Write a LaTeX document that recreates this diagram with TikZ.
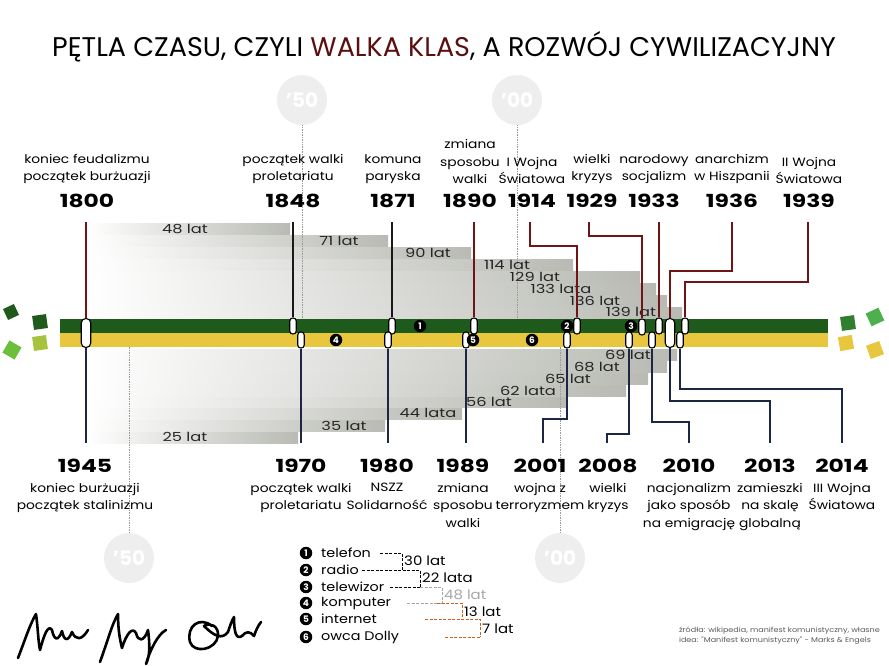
\documentclass[tikz,border=0pt]{standalone}
\usepackage{fontspec}
\setmainfont{Poppins}
\newfontfamily\widefont[FakeStretch=1.15]{Poppins}
\newfontfamily\yearfont[FakeStretch=1.3]{Poppins}
\usetikzlibrary{positioning}
\definecolor{BarGreen}{HTML}{1D5A1B}
\definecolor{BarYellow}{HTML}{E8C63E}
\definecolor{TileLime}{HTML}{6CBF3C}
\definecolor{TileOlive}{HTML}{A7C23D}
\definecolor{TileGreen}{HTML}{2F7F2F}
\definecolor{TileBright}{HTML}{4CB04C}
\definecolor{LineRed}{HTML}{6E1616}
\definecolor{LineNavy}{HTML}{1B2744}
\definecolor{SpanGray}{HTML}{B8BAB3}
\definecolor{DecadeGray}{HTML}{EEEEEE}
\definecolor{LegOrange}{HTML}{C8641E}
\definecolor{TitleRed}{HTML}{5A1010}

\begin{document}
\begin{tikzpicture}[
      x=1pt,y=-1pt,
      event/.style={align=center,inner sep=1pt,font=\widefont\fontsize{12}{17.5}\selectfont},
      year/.style={inner sep=1pt,font=\yearfont\fontsize{18}{18}\selectfont\bfseries},
      spanbar/.style={left color=white,right color=SpanGray},
      spantxt/.style={inner sep=0pt,font=\yearfont\fontsize{12.5}{12.5}\selectfont,text=black!85},
      capsule/.style={draw=black,fill=white,line width=1.1pt,rounded corners=3pt,minimum width=6.5pt,minimum height=16pt,inner sep=0pt},
      bigcapsule/.style={capsule,minimum width=9.5pt,minimum height=29pt,rounded corners=4.5pt},
      num/.style={circle,fill=black,text=white,inner sep=0pt,minimum size=12.5pt,font=\fontsize{9}{9}\selectfont\bfseries},
      upline/.style={draw=LineRed,line width=1.4pt},
      blkline/.style={draw=black!90,line width=1.4pt},
      downline/.style={draw=LineNavy,line width=1.4pt},
      decade/.style={circle,fill=DecadeGray,text=white,minimum size=50pt,inner sep=0pt,font=\fontsize{20}{20}\selectfont\bfseries},
      decdots/.style={draw=black!40,densely dotted,line width=0.7pt},
      legtxt/.style={anchor=west,inner sep=1pt,font=\widefont\fontsize{12.5}{12.5}\selectfont},
      legdash/.style={line width=1pt,dash pattern=on 3pt off 1.5pt},
      gaptxt/.style={anchor=west,inner sep=0pt,font=\widefont\fontsize{13}{13}\selectfont},
      sig/.style={line width=2.6pt,line cap=round,line join=round}
    ]
      \useasboundingbox (0,0) rectangle (889,666);

      % title
      \node (title) at (444,47) {\fontsize{27}{27}\selectfont P\k{E}TLA CZASU, CZYLI \textcolor{TitleRed}{WALKA KLAS}, A ROZWÓJ CYWILIZACYJNY};

      % decade markers
      \node[decade] (d1850) at (302,100) {'50};
      \node[decade] (d1900) at (517,100) {'00};
      \node[decade] (d1950) at (129,558) {'50};
      \node[decade] (d2000) at (560,558) {'00};

      % spans counted from 1800
      \fill[spanbar] (86,223) rectangle (290,235);
      \fill[spanbar] (86,235) rectangle (388,247);
      \fill[spanbar] (86,247) rectangle (471,259);
      \fill[spanbar] (86,259) rectangle (573,271);
      \fill[spanbar] (86,271) rectangle (640,283);
      \fill[spanbar] (86,283) rectangle (656,295);
      \fill[spanbar] (86,295) rectangle (667,307);
      \fill[spanbar] (86,307) rectangle (682,318);
      % spans counted from 1945
      \fill[spanbar] (86,349) rectangle (677,360);
      \fill[spanbar] (86,361) rectangle (667,372);
      \fill[spanbar] (86,373) rectangle (648,384);
      \fill[spanbar] (86,385) rectangle (626,396);
      \fill[spanbar] (86,397) rectangle (566,407);
      \fill[spanbar] (86,408) rectangle (462,419);
      \fill[spanbar] (86,420) rectangle (385,431);
      \fill[spanbar] (86,432) rectangle (298,443);

      \coordinate (f1850) at (302,333);
      \coordinate (f1900) at (517,333);
      \coordinate (g1950) at (129,333);
      \coordinate (g2000) at (560,333);
      \draw[decdots] (d1850) -- (f1850);
      \draw[decdots] (d1900) -- (f1900);
      \draw[decdots] (g1950) -- (d1950);
      \draw[decdots] (g2000) -- (d2000);

      \node[spantxt] (s48) at (185,229) {48 lat};
      \node[spantxt] (s71) at (339,241) {71 lat};
      \node[spantxt] (s90) at (428,253) {90 lat};
      \node[spantxt] (s114) at (507,265) {114 lat};
      \node[spantxt] (s129) at (535,277) {129 lat};
      \node[spantxt] (s133) at (561,289) {133 lata};
      \node[spantxt] (s136) at (595,301) {136 lat};
      \node[spantxt] (s139) at (631,312) {139 lat};
      \node[spantxt] (s69) at (628,355) {69 lat};
      \node[spantxt] (s68) at (597,367) {68 lat};
      \node[spantxt] (s65) at (568,379) {65 lat};
      \node[spantxt] (s62) at (528,391) {62 lata};
      \node[spantxt] (s56) at (489,402) {56 lat};
      \node[spantxt] (s44) at (428,413) {44 lata};
      \node[spantxt] (s35) at (344,426) {35 lat};
      \node[spantxt] (s25) at (185,437) {25 lat};

      % the two time bands
      \fill[BarGreen] (60,319) rectangle (828,333);
      \fill[BarYellow] (60,333) rectangle (828,347);
      \fill[BarGreen,rotate around={25:(11,312)}] (5,306) rectangle (17,318);
      \fill[BarGreen,rotate around={8:(40,322)}] (33,315) rectangle (47,329);
      \fill[TileLime,rotate around={-30:(12,350)}] (5,343) rectangle (19,357);
      \fill[TileOlive,rotate around={8:(40,343)}] (33,336) rectangle (47,350);
      \fill[TileGreen,rotate around={8:(848,323)}] (841,316) rectangle (855,330);
      \fill[TileBright,rotate around={25:(875,317)}] (868,310) rectangle (882,324);
      \fill[BarYellow,rotate around={10:(846,343)}] (839,336) rectangle (853,350);
      \fill[BarYellow,rotate around={20:(875,350)}] (868,343) rectangle (882,357);

      % markers on the bands
      \node[bigcapsule] (p1800) at (86,333) {};
      \node[capsule] (p1848) at (293,326) {};
      \node[capsule] (p1871) at (392,326) {};
      \node[capsule] (p1890) at (474,326) {};
      \node[capsule] (p1914) at (577,326) {};
      \node[capsule] (p1929) at (642,327) {};
      \node[capsule] (p1933) at (659,326) {};
      \node[bigcapsule] (p1936) at (670,333) {};
      \node[capsule] (p1939) at (685,326) {};
      \node[capsule] (p1970) at (301,340) {};
      \node[capsule] (p1980) at (388,340) {};
      \node[capsule] (p1989) at (466,340) {};
      \node[capsule] (p2001) at (567,340) {};
      \node[capsule] (p2008) at (629,340) {};
      \node[capsule] (p2010) at (652,340) {};
      \node[capsule] (p2014) at (680,340) {};

      \node[num] (n1) at (420,326) {1};
      \node[num] (n2) at (567,326) {2};
      \node[num] (n3) at (631,326) {3};
      \node[num] (n4) at (336,340) {4};
      \node[num] (n5) at (473,340) {5};
      \node[num] (n6) at (532,340) {6};

      % upper events
      \node[year] (y1800) at (87,201) {1800};
      \node[event,above=8pt of y1800] (e1800) {koniec feudalizmu\\początek burżuazji};
      \node[year] (y1848) at (293,201) {1848};
      \node[event,above=8pt of y1848] (e1848) {początek walki\\proletariatu};
      \node[year] (y1871) at (393,201) {1871};
      \node[event,above=8pt of y1871] (e1871) {komuna\\paryska};
      \node[year] (y1890) at (470,201) {1890};
      \node[event,above=8pt of y1890] (e1890) {zmiana\\sposobu\\walki};
      \node[year] (y1914) at (532,201) {1914};
      \node[event,above=8pt of y1914] (e1914) {I Wojna\\Światowa};
      \node[year] (y1929) at (592,201) {1929};
      \node[event,above=8pt of y1929] (e1929) {wielki\\kryzys};
      \node[year] (y1933) at (654,201) {1933};
      \node[event,above=8pt of y1933] (e1933) {narodowy\\socjalizm};
      \node[year] (y1936) at (732,201) {1936};
      \node[event,above=8pt of y1936] (e1936) {anarchizm\\w Hiszpanii};
      \node[year] (y1939) at (809,201) {1939};
      \node[event,above=8pt of y1939] (e1939) {II Wojna\\Światowa};

      \coordinate (t1800) at (86,222);
      \coordinate (t1848) at (293,222);
      \coordinate (t1871) at (392,222);
      \coordinate (t1890) at (474,222);
      \coordinate (t1914) at (530,222);
      \coordinate (t1929) at (589,222);
      \coordinate (t1933) at (659,222);
      \coordinate (t1936) at (732,222);
      \coordinate (t1939) at (808,222);
      \coordinate (k1914) at (577,246);
      \coordinate (k1929) at (642,236);
      \coordinate (k1936) at (670,271);
      \coordinate (k1939) at (685,282);
      \draw[upline] (t1800) -- (p1800);
      \draw[blkline] (t1848) -- (p1848);
      \draw[blkline] (t1871) -- (p1871);
      \draw[upline] (t1890) -- (p1890);
      \draw[upline] (t1914) |- (k1914) -- (p1914);
      \draw[upline] (t1929) |- (k1929) -- (p1929);
      \draw[upline] (t1933) -- (p1933);
      \draw[upline] (t1936) |- (k1936) -- (p1936);
      \draw[upline] (t1939) |- (k1939) -- (p1939);

      % lower events
      \node[year] (y1945) at (85,466) {1945};
      \node[event,below=8pt of y1945] (e1945) {koniec burżuazji\\początek stalinizmu};
      \node[year] (y1970) at (301,466) {1970};
      \node[event,below=8pt of y1970] (e1970) {początek walki\\proletariatu};
      \node[year] (y1980) at (387,466) {1980};
      \node[event,below=8pt of y1980] (e1980) {NSZZ\\Solidarność};
      \node[year] (y1989) at (463,466) {1989};
      \node[event,below=8pt of y1989] (e1989) {zmiana\\sposobu\\walki};
      \node[year] (y2001) at (540,466) {2001};
      \node[event,below=8pt of y2001] (e2001) {wojna z\\terroryzmem};
      \node[year] (y2008) at (608,466) {2008};
      \node[event,below=8pt of y2008] (e2008) {wielki\\kryzys};
      \node[year] (y2010) at (689,466) {2010};
      \node[event,below=8pt of y2010] (e2010) {nacjonalizm\\jako sposób\\na emigrację};
      \node[year] (y2013) at (770,466) {2013};
      \node[event,below=8pt of y2013] (e2013) {zamieszki\\na skalę\\globalną};
      \node[year] (y2014) at (842,466) {2014};
      \node[event,below=8pt of y2014] (e2014) {III Wojna\\Światowa};

      \coordinate (b1945) at (86,443);
      \coordinate (b1970) at (301,443);
      \coordinate (b1980) at (388,443);
      \coordinate (b1989) at (466,443);
      \coordinate (b2001) at (543,443);
      \coordinate (b2008) at (607,443);
      \coordinate (b2010) at (689,443);
      \coordinate (b2013) at (770,443);
      \coordinate (b2014) at (842,443);
      \coordinate (k2001) at (543,419);
      \coordinate (k2008) at (607,434);
      \coordinate (k2010) at (689,422);
      \coordinate (k2013) at (770,401);
      \coordinate (k2014) at (842,389);
      \draw[downline] (p1800) -- (b1945);
      \draw[downline] (p1970) -- (b1970);
      \draw[downline] (p1980) -- (b1980);
      \draw[downline] (p1989) -- (b1989);
      \draw[downline] (p2001) |- (k2001) -- (b2001);
      \draw[downline] (p2008) |- (k2008) -- (b2008);
      \draw[downline] (p2010) |- (k2010) -- (b2010);
      \draw[downline] (p1936) |- (k2013) -- (b2013);
      \draw[downline] (p2014) |- (k2014) -- (b2014);

      % legend
      \node[num] (l1) at (306,553) {1};
      \node[num] (l2) at (306,570) {2};
      \node[num] (l3) at (306,587) {3};
      \node[num] (l4) at (306,603) {4};
      \node[num] (l5) at (306,619) {5};
      \node[num] (l6) at (306,637) {6};
      \node[legtxt] (lt1) at (320,553) {telefon};
      \node[legtxt] (lt2) at (320,570) {radio};
      \node[legtxt] (lt3) at (320,587) {telewizor};
      \node[legtxt] (lt4) at (320,603) {komputer};
      \node[legtxt] (lt5) at (320,619) {internet};
      \node[legtxt] (lt6) at (320,637) {owca Dolly};

      \coordinate (a1) at (380,553);
      \coordinate (a2) at (362,570);
      \coordinate (a3) at (390,587);
      \coordinate (a4) at (407,603);
      \coordinate (a4b) at (437,603);
      \coordinate (a5) at (425,619);
      \coordinate (a6) at (445,637);
      \coordinate (m1) at (402,570);
      \coordinate (m2) at (420,587);
      \coordinate (m3) at (442,603);
      \coordinate (m4) at (462,619);
      \coordinate (m5) at (480,637);
      \draw[legdash] (a1) -| (m1);
      \draw[legdash] (a2) -| (m2);
      \draw[legdash] (a3) -- (m2);
      \draw[legdash,draw=black!35] (m2) -| (m3);
      \draw[legdash,draw=black!35] (a4) -- (m3);
      \draw[legdash,draw=LegOrange] (a4b) -| (m4);
      \draw[legdash,draw=LegOrange] (a5) -| (m5);
      \draw[legdash,draw=LegOrange] (a6) -- (m5);
      \node[gaptxt] (g30) at (404,561) {30 lat};
      \node[gaptxt] (g22) at (422,578) {22 lata};
      \node[gaptxt,text=black!35] (g48) at (444,595) {48 lat};
      \node[gaptxt] (g13) at (464,612) {13 lat};
      \node[gaptxt] (g7) at (482,629) {7 lat};

      % source note
      \node[anchor=east,align=left,inner sep=0pt,font=\widefont\fontsize{7}{10}\selectfont,text=black!65] (src) at (880,636) {źródła: wikipedia, manifest komunistyczny, własne\\idea: "Manifest komunistyczny" - Marks \& Engels};

      % signature
      \draw[sig] (18,658) .. controls (25,640) and (30,624) .. (36,614) .. controls (38,628) and (38,640) .. (40,650) .. controls (44,635) and (48,624) .. (52,630) .. controls (54,640) and (58,642) .. (62,631) .. controls (64,641) and (68,642) .. (72,632) .. controls (76,641) and (82,640) .. (88,630);
      \draw[sig] (100,662) .. controls (108,640) and (112,624) .. (118,614) .. controls (118,630) and (120,640) .. (122,648) .. controls (126,635) and (132,626) .. (136,633) .. controls (138,642) and (144,642) .. (148,630) .. controls (150,645) and (150,656) .. (146,664) .. controls (150,650) and (158,634) .. (166,630);
      \draw[sig] (212,626) .. controls (200,616) and (186,626) .. (190,642) .. controls (194,654) and (216,650) .. (218,636) .. controls (219,626) and (210,622) .. (204,626) .. controls (214,636) and (222,640) .. (228,632) .. controls (230,626) and (232,620) .. (234,617) .. controls (234,632) and (236,640) .. (242,636) .. controls (246,631) and (250,631) .. (254,636) .. controls (256,630) and (258,626) .. (261,622);
    \end{tikzpicture}
\end{document}
